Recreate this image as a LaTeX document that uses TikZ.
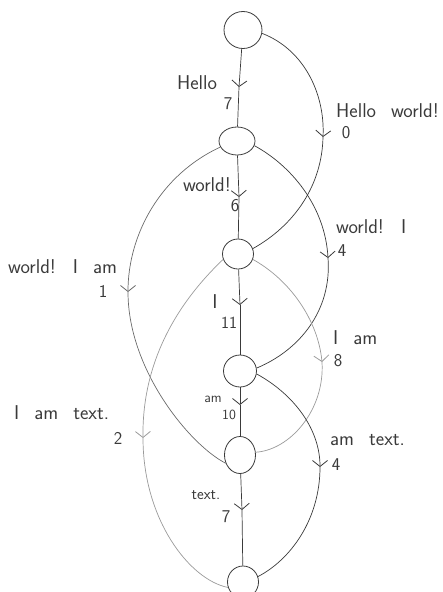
\documentclass[tikz,border=0pt]{standalone}
\usetikzlibrary{arrows.meta,shapes.geometric}
\definecolor{ink}{HTML}{3A3A3A}
\definecolor{inklight}{HTML}{9A9A9A}
\definecolor{inkmid}{HTML}{6A6A6A}
\newcommand\widespaces{\spaceskip=15pt\relax}
\begin{document}
\begin{tikzpicture}[x=1pt,y=-1pt,
  vert/.style={draw=ink,line width=0.8pt,ellipse,inner sep=0pt},
  edge/.style={draw=ink,line width=0.7pt},
  edgelight/.style={draw=inklight,line width=0.7pt},
  edgemid/.style={draw=inkmid,line width=0.7pt},
  barb/.style={-{Straight Barb[length=6pt,width=15pt,line width=0.8pt]}},
  lab/.style={text=ink,inner sep=0pt,font=\sffamily\fontsize{20}{24}\selectfont,execute at begin node=\widespaces},
  num/.style={text=ink,inner sep=0pt,font=\sffamily\fontsize{18}{20}\selectfont},
  labsmall/.style={text=ink,inner sep=0pt,font=\sffamily\fontsize{14}{16}\selectfont},
]
\useasboundingbox (0,0) rectangle (443,592);
% vertices
\node[vert,minimum width=38pt,minimum height=37pt] (n0) at (243,30) {};
\node[vert,minimum width=36pt,minimum height=28pt] (n1) at (237,141) {};
\node[vert,minimum width=31pt,minimum height=30pt] (n2) at (238,254) {};
\node[vert,minimum width=33pt,minimum height=32pt] (n3) at (240,371) {};
\node[vert,minimum width=31pt,minimum height=37pt] (n4) at (240,455) {};
\node[vert,minimum width=31pt,minimum height=32pt] (n5) at (243,582) {};
% arrow points
\coordinate (a01) at (239,87);
\coordinate (a12) at (239,197);
\coordinate (a23) at (240,305);
\coordinate (a34) at (240,405);
\coordinate (a45) at (242,510);
\coordinate (a02) at (323,137);
\coordinate (a13) at (328,258);
\coordinate (a14) at (128,292);
\coordinate (a24) at (322,362);
\coordinate (a25) at (143,438);
\coordinate (a35) at (320,467);
% straight edges
\draw[edge,barb] (n0) -- (a01); \draw[edge] (a01) -- (n1);
\draw[edge,barb] (n1) -- (a12); \draw[edge] (a12) -- (n2);
\draw[edge,barb] (n2) -- (a23); \draw[edge] (a23) -- (n3);
\draw[edge,barb] (n3) -- (a34); \draw[edge] (a34) -- (n4);
\draw[edge,barb] (n4) -- (a45); \draw[edge] (a45) -- (n5);
% curved edges
\draw[edge,barb] (n0.-10) .. controls (305,50) and (325,95) .. (a02);
\draw[edge] (a02) .. controls (322,185) and (295,225) .. (n2.20);
\draw[edge,barb] (n1.-15) .. controls (290,165) and (325,205) .. (a13);
\draw[edge] (a13) .. controls (332,310) and (300,350) .. (n3.10);
\draw[edgemid,barb] (n1.200) .. controls (160,175) and (128,235) .. (a14);
\draw[edgemid] (a14) .. controls (128,370) and (190,445) .. (n4.210);
\draw[edgelight,barb] (n2.-20) .. controls (290,280) and (318,320) .. (a24);
\draw[edgelight] (a24) .. controls (325,410) and (290,450) .. (n4.10);
\draw[edgelight,barb] (n2.200) .. controls (170,310) and (142,370) .. (a25);
\draw[edgelight] (a25) .. controls (143,520) and (190,580) .. (n5.200);
\draw[edge,barb] (n3.-10) .. controls (295,395) and (320,430) .. (a35);
\draw[edge] (a35) .. controls (320,520) and (290,560) .. (n5.20);
% labels
\node[lab] (l01a) at (197,83) {Hello};
\node[num] (l01b) at (228,104) {7};
\node[lab,anchor=west] (l02a) at (336,111) {Hello world!};
\node[num] (l02b) at (346,133) {0};
\node[lab] (l12a) at (207,185) {world!};
\node[num] (l12b) at (235,206) {6};
\node[lab,anchor=west] (l13a) at (336,227) {world! I};
\node[num] (l13b) at (342,251) {4};
\node[lab,anchor=west] (l14a) at (8,267) {world! I am};
\node[num] (l14b) at (103,291) {1};
\node[lab] (l23a) at (215,302) {I};
\node[labsmall,font=\sffamily\fontsize{17}{18}\selectfont] (l23b) at (229,323) {11};
\node[lab,anchor=west] (l24a) at (333,338) {I am};
\node[num] (l24b) at (338,361) {8};
\node[lab,anchor=west] (l25a) at (14,413) {I am text.};
\node[num] (l25b) at (118,438) {2};
\node[labsmall] (l34a) at (213,399) {am};
\node[labsmall] (l34b) at (229,415) {10};
\node[lab,anchor=west] (l35a) at (330,440) {am text.};
\node[num] (l35b) at (336,465) {4};
\node[labsmall,font=\sffamily\fontsize{16}{18}\selectfont] (l45a) at (206,495) {text.};
\node[num] (l45b) at (226,517) {7};
\end{tikzpicture}
\end{document}
